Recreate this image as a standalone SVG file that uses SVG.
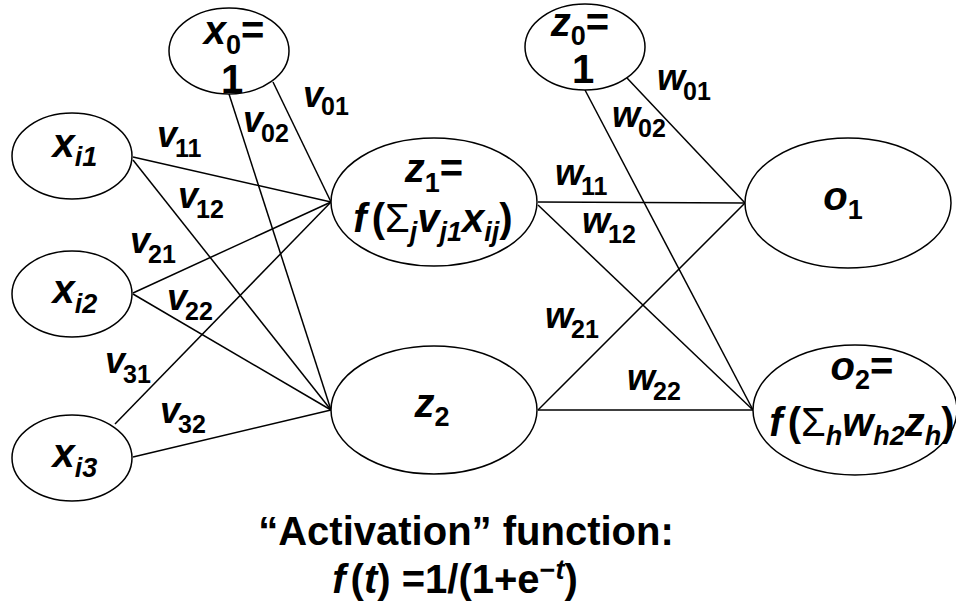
<svg xmlns="http://www.w3.org/2000/svg" width="956" height="607" viewBox="0 0 956 607">
<style>
.node ellipse{fill:#fff;stroke:#000;stroke-width:1.5}
#connectors line{stroke:#000;stroke-width:1.5}
text{font-family:"Liberation Sans",Arial,sans-serif;font-weight:bold;fill:#000}
.nt{font-size:40px}
.et{font-size:36px}
.it{font-style:italic}
.ns{font-size:27px}
.es{font-size:25px}
.sg{font-weight:normal}
</style>
<rect width="956" height="607" fill="#fff"/>
<g id="connectors">
<line x1="273" y1="82" x2="331" y2="202"/>
<line x1="229" y1="94" x2="331" y2="410"/>
<line x1="133" y1="157" x2="331" y2="202"/>
<line x1="133" y1="160" x2="331" y2="410"/>
<line x1="133" y1="293" x2="331" y2="202"/>
<line x1="133" y1="294" x2="331" y2="410"/>
<line x1="115" y1="424" x2="331" y2="202"/>
<line x1="133" y1="457" x2="331" y2="410"/>
<line x1="627" y1="78" x2="745" y2="203"/>
<line x1="585" y1="90" x2="753" y2="410"/>
<line x1="538" y1="202" x2="745" y2="203"/>
<line x1="538" y1="205" x2="753" y2="410"/>
<line x1="538" y1="410" x2="745" y2="203"/>
<line x1="538" y1="410" x2="753" y2="410"/>
</g>
<g id="edge-labels">
<text class="et" x="303" y="107"><tspan class="it">v</tspan><tspan class="es" dx="-2" dy="8">01</tspan></text>
<text class="et" x="243" y="132"><tspan class="it">v</tspan><tspan class="es" dx="-2" dy="10">02</tspan></text>
<text class="et" x="157" y="147"><tspan class="it">v</tspan><tspan class="es" dx="-2" dy="10">11</tspan></text>
<text class="et" x="178" y="208"><tspan class="it">v</tspan><tspan class="es" dx="-2" dy="10">12</tspan></text>
<text class="et" x="130" y="253"><tspan class="it">v</tspan><tspan class="es" dx="-2" dy="10">21</tspan></text>
<text class="et" x="167" y="310"><tspan class="it">v</tspan><tspan class="es" dx="-2" dy="10">22</tspan></text>
<text class="et" x="105" y="373"><tspan class="it">v</tspan><tspan class="es" dx="-2" dy="10">31</tspan></text>
<text class="et" x="160" y="423"><tspan class="it">v</tspan><tspan class="es" dx="-2" dy="10">32</tspan></text>
<text class="et" x="657" y="90"><tspan class="it">w</tspan><tspan class="es" dx="-2" dy="10">01</tspan></text>
<text class="et" x="612" y="127"><tspan class="it">w</tspan><tspan class="es" dx="-2" dy="10">02</tspan></text>
<text class="et" x="555" y="185"><tspan class="it">w</tspan><tspan class="es" dx="-2" dy="10">11</tspan></text>
<text class="et" x="582" y="233"><tspan class="it">w</tspan><tspan class="es" dx="-2" dy="10">12</tspan></text>
<text class="et" x="545" y="328"><tspan class="it">w</tspan><tspan class="es" dx="-2" dy="10">21</tspan></text>
<text class="et" x="627" y="390"><tspan class="it">w</tspan><tspan class="es" dx="-2" dy="10">22</tspan></text>
</g>
<g id="x0" class="node">
<ellipse cx="229" cy="51" rx="60" ry="43"/>
<text class="nt" x="234" y="44" text-anchor="middle"><tspan class="it">x</tspan><tspan class="ns" dy="10">0</tspan><tspan dy="-10">=</tspan></text>
<text class="nt" x="232" y="93" text-anchor="middle">1</text>
</g>
<g id="xi1" class="node">
<ellipse cx="72" cy="156" rx="60" ry="43"/>
<text class="nt it" x="75" y="157" text-anchor="middle">x<tspan class="ns" dy="9">i1</tspan></text>
</g>
<g id="xi2" class="node">
<ellipse cx="72" cy="294" rx="60" ry="43"/>
<text class="nt it" x="75" y="303" text-anchor="middle">x<tspan class="ns" dy="10">i2</tspan></text>
</g>
<g id="xi3" class="node">
<ellipse cx="72" cy="458" rx="60" ry="43"/>
<text class="nt it" x="75" y="467" text-anchor="middle">x<tspan class="ns" dy="10">i3</tspan></text>
</g>
<g id="z1" class="node">
<ellipse cx="434" cy="202" rx="103" ry="64"/>
<text class="nt" x="434" y="182" text-anchor="middle"><tspan class="it">z</tspan><tspan class="ns" dy="10">1</tspan><tspan dy="-10">=</tspan></text>
<text class="nt" x="433" y="232" text-anchor="middle"><tspan class="it">f</tspan><tspan dx="5">(</tspan><tspan class="sg">Σ</tspan><tspan class="ns it" dy="9">j</tspan><tspan class="it" dy="-9">v</tspan><tspan class="ns it" dy="9">j1</tspan><tspan class="it" dy="-9">x</tspan><tspan class="ns it" dy="9">ij</tspan><tspan dy="-9">)</tspan></text>
</g>
<g id="z2" class="node">
<ellipse cx="434" cy="410" rx="103" ry="64"/>
<text class="nt" x="432" y="417" text-anchor="middle"><tspan class="it">z</tspan><tspan class="ns" dy="9">2</tspan></text>
</g>
<g id="z0" class="node">
<ellipse cx="585" cy="47" rx="60" ry="43"/>
<text class="nt" x="580" y="36" text-anchor="middle" font-size="38"><tspan class="it">z</tspan><tspan class="ns" dy="9">0</tspan><tspan dy="-9">=</tspan></text>
<text class="nt" x="583" y="83" text-anchor="middle">1</text>
</g>
<g id="o1" class="node">
<ellipse cx="848" cy="203" rx="103" ry="65"/>
<text class="nt" x="843" y="210" text-anchor="middle"><tspan class="it">o</tspan><tspan class="ns" dy="9">1</tspan></text>
</g>
<g id="o2" class="node">
<ellipse cx="855" cy="410" rx="102" ry="65"/>
<text class="nt" x="862" y="380" text-anchor="middle"><tspan class="it">o</tspan><tspan class="ns" dy="9">2</tspan><tspan dy="-9">=</tspan></text>
<text class="nt" x="862" y="436" text-anchor="middle"><tspan class="it">f</tspan><tspan dx="5">(</tspan><tspan class="sg">Σ</tspan><tspan class="ns it" dy="9">h</tspan><tspan class="it" dy="-9">w</tspan><tspan class="ns it" dy="9">h2</tspan><tspan class="it" dy="-9">z</tspan><tspan class="ns it" dy="9">h</tspan><tspan dy="-9">)</tspan></text>
</g>
<g id="caption">
<text class="nt" x="466" y="545" text-anchor="middle" font-size="37">“Activation” function:</text>
<text class="nt" x="455" y="593" text-anchor="middle"><tspan class="it">f</tspan><tspan dx="5">(</tspan><tspan class="it">t</tspan>) =1/(1+e<tspan class="ns" dy="-14">−<tspan class="it">t</tspan></tspan><tspan dy="14">)</tspan></text>
</g>
</svg>
